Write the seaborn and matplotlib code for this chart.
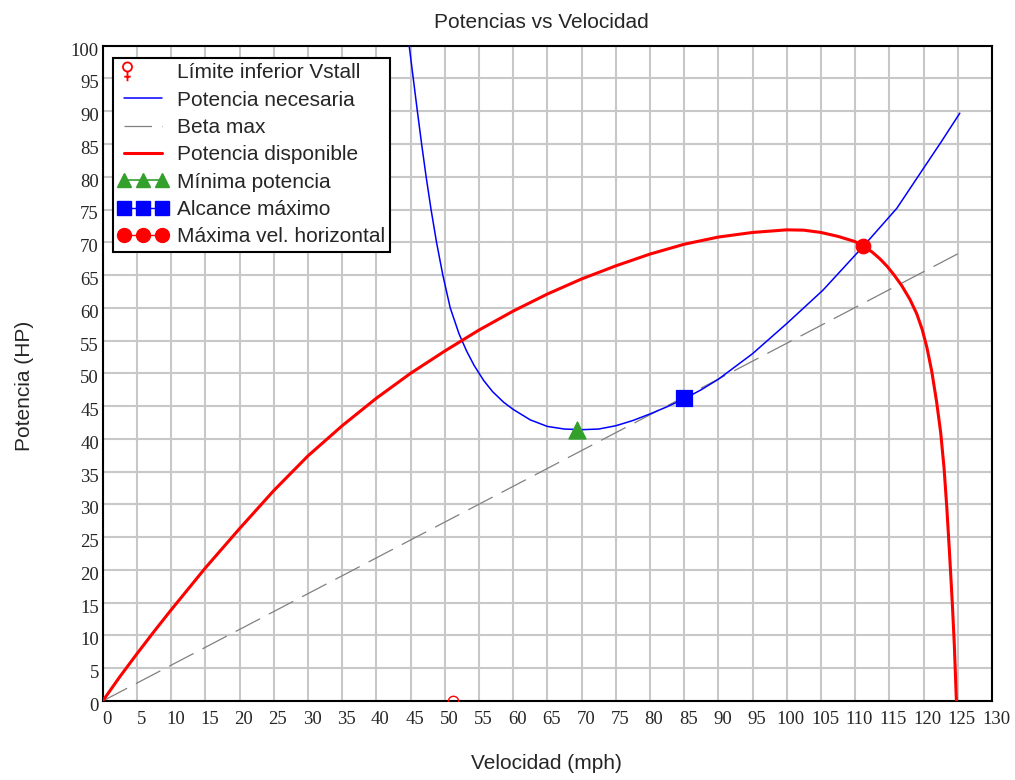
import numpy as np
import matplotlib
matplotlib.use("Agg")
import matplotlib.pyplot as plt
import matplotlib.transforms as mtransforms
from matplotlib.lines import Line2D
from matplotlib.path import Path
from matplotlib.legend_handler import HandlerLine2D
import seaborn as sns

# ---------------- data ----------------
vel_req = [44.8, 45.4, 46.0, 46.62, 47.28, 48.0, 48.8, 49.72, 50.8, 52.1, 53.2, 54.3, 55.7,
           57.0, 58.6, 60.0, 62.5, 65.0, 67.5, 70.0, 72.5, 75.0, 77.5, 80.0, 82.5, 85.0,
           87.5, 90.0, 95.0, 100.0, 105.3, 111.2, 116.1, 120.0, 122.5, 125.3]
pot_req = [100.0, 95.0, 90.0, 85.0, 80.0, 75.0, 70.0, 65.0, 60.0, 56.0, 53.4, 51.2, 48.9,
           47.2, 45.6, 44.5, 42.9, 41.9, 41.5, 41.4, 41.5, 42.0, 42.8, 43.8, 44.9, 46.1,
           47.5, 49.1, 53.0, 57.6, 62.7, 69.4, 75.2, 81.3, 85.2, 89.7]

vel_disp = [0, 2.5, 5, 7.5, 10, 15, 20, 25, 30, 35, 40, 45, 50, 55, 60, 65, 70, 75, 80, 85,
            90, 95, 100, 102.5, 105, 107.5, 110, 111.2, 112.5, 113.6, 114.7, 115.7, 116.8,
            118.0, 119.0, 119.8, 120.5, 121.2, 121.9, 122.5, 123.0, 123.4, 123.8, 124.2,
            124.5, 124.8]
pot_disp = [0, 3.7, 7.2, 10.6, 13.9, 20.3, 26.3, 32.1, 37.4, 42.0, 46.2, 50.0, 53.4, 56.6,
            59.5, 62.1, 64.4, 66.4, 68.2, 69.7, 70.8, 71.5, 71.9, 71.85, 71.5, 70.9, 70.1,
            69.4, 68.5, 67.5, 66.3, 65.0, 63.4, 61.3, 59.1, 56.7, 53.9, 50.3, 45.7, 41.0,
            35.5, 29.5, 22.5, 15.0, 8.5, 0.0]

vel_beta = [0.0, 125.3]
pot_beta = [0.0, 68.4]

vstall_v, vstall_p = [51.2], [0.0]
min_pot_v, min_pot_p = [69.3], [41.4]
alc_max_v, alc_max_p = [85.0], [46.3]
max_vel_v, max_vel_p = [111.2], [69.4]

x_ticks = list(range(0, 131, 5))
y_ticks = list(range(0, 101, 5))

labels = ["Límite inferior Vstall", "Potencia necesaria", "Beta max",
          "Potencia disponible", "Mínima potencia", "Alcance máximo",
          "Máxima vel. horizontal"]

# ---------------- style ----------------
sns.set_style("white")
plt.rcParams['font.family'] = ['Liberation Sans', 'DejaVu Sans']

RED = "#ff0000"
BLUE = "#0000ff"
GREY = "#808080"
GREEN = "#33a02c"

fig = plt.figure(figsize=(10.15, 7.8), dpi=100)
ax = fig.add_axes([0.1012, 0.1013, 0.8761, 0.8401])

sns.lineplot(x=vel_req, y=pot_req, ax=ax, color=BLUE, lw=1.1, zorder=3)
sns.lineplot(x=vel_beta, y=pot_beta, ax=ax, color=GREY, lw=0.9, zorder=2,
             dashes=False).lines[-1].set_dashes([22, 8])
sns.lineplot(x=vel_disp, y=pot_disp, ax=ax, color=RED, lw=2.2, zorder=4, sort=False,
             estimator=None)

ax.plot(vstall_v, vstall_p, ls='none', marker='o', ms=7.5, mfc='none', mec=RED,
        mew=1.0, zorder=5, clip_on=True)
sns.scatterplot(x=min_pot_v, y=min_pot_p, ax=ax, marker='^', s=150, color=GREEN,
                edgecolor=GREEN, zorder=6)
sns.scatterplot(x=alc_max_v, y=alc_max_p, ax=ax, marker='s', s=125, color=BLUE,
                edgecolor=BLUE, zorder=6)
sns.scatterplot(x=max_vel_v, y=max_vel_p, ax=ax, marker='o', s=110, color=RED,
                edgecolor=RED, zorder=6)

# ---------------- axes ----------------
ax.set_xlim(0, 130)
ax.set_ylim(0, 100)
ax.set_xticks(x_ticks)
ax.set_yticks(y_ticks)
ax.set_xticklabels([str(t) for t in x_ticks], fontfamily='Liberation Serif', fontsize=13.5)
ax.set_yticklabels([str(t) for t in y_ticks], fontfamily='Liberation Serif', fontsize=13.5)
ax.tick_params(axis='x', length=0, pad=7)
ax.tick_params(axis='y', length=0, pad=2.7)
dx = mtransforms.ScaledTranslation(3 / 72, 0, fig.dpi_scale_trans)
dy = mtransforms.ScaledTranslation(0, -2.5 / 72, fig.dpi_scale_trans)
for lab in ax.get_xticklabels():
    lab.set_transform(lab.get_transform() + dx)
for lab in ax.get_yticklabels():
    lab.set_transform(lab.get_transform() + dy)

ax.grid(True, color='#c8c8c8', lw=1.5)
ax.set_axisbelow(True)
for sp in ax.spines.values():
    sp.set_visible(True)
    sp.set_color('black')
    sp.set_linewidth(1.5)

ax.set_title("Potencias vs Velocidad", fontsize=15, pad=12.5, x=0.493)
ax.set_xlabel("Velocidad (mph)", fontsize=15)
ax.set_ylabel("Potencia (HP)", fontsize=15)
ax.xaxis.set_label_coords(0.4985, -0.0809)
ax.yaxis.set_label_coords(-0.0773, 0.4807)

# ---------------- legend ----------------
venus = Path.make_compound_path(
    Path.circle((0, 0.35), 0.35),
    Path([(0, 0.0), (0, -0.75)], [Path.MOVETO, Path.LINETO]),
    Path([(-0.25, -0.4), (0.25, -0.4)], [Path.MOVETO, Path.LINETO]),
)


class LeftMarkerHandler(HandlerLine2D):
    # single marker placed near the left end of the handle area
    def get_xdata(self, legend, xdescent, ydescent, width, height, fontsize):
        x0 = -xdescent
        off = 0.4 * fontsize
        return [x0, x0 + 2 * off], [x0 + off]


h_vstall = Line2D([], [], ls='none', marker=venus, ms=14, mfc='none', mec=RED, mew=1.3)
h_req = Line2D([], [], color=BLUE, lw=1.1)
h_beta = Line2D([], [], color=GREY, lw=0.9, dashes=[22, 8])
h_disp = Line2D([], [], color=RED, lw=2.2)
h_min = Line2D([], [], color=GREEN, lw=1.2, marker='^', ms=10, mec=GREEN)
h_alc = Line2D([], [], color=BLUE, lw=1.0, marker='s', ms=10, mec=BLUE)
h_max = Line2D([], [], color=RED, lw=1.0, marker='o', ms=10, mec=RED)

leg = ax.legend([h_vstall, h_req, h_beta, h_disp, h_min, h_alc, h_max], labels,
                loc='upper left', bbox_to_anchor=(0.0116, 0.981), borderaxespad=0,
                fontsize=15, numpoints=3, handlelength=2.4, handletextpad=0.4,
                labelspacing=0.4, borderpad=0.25, fancybox=False, framealpha=1,
                edgecolor='black', handler_map={h_vstall: LeftMarkerHandler(numpoints=1)})
leg.get_frame().set_linewidth(1.5)
leg.set_zorder(10)

fig.savefig("out.png", dpi=100)
